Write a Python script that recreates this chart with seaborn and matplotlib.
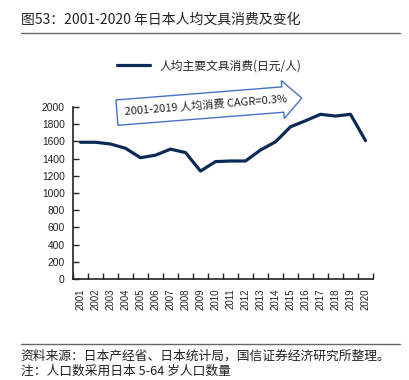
import matplotlib
matplotlib.use("Agg")
import matplotlib.pyplot as plt
import seaborn as sns
import pandas as pd

# ----------------------------
# Data
# ----------------------------
years = [str(y) for y in range(2001, 2021)]
spend = [1590, 1590, 1570, 1520, 1410, 1440, 1510, 1470, 1255, 1365,
         1372, 1372, 1500, 1595, 1770, 1840, 1915, 1895, 1915, 1610]
series_name = "人均主要文具消费(日元/人)"
y_ticks = list(range(0, 2001, 200))

title = "图53：2001-2020 年日本人均文具消费及变化"
note = "2001-2019 人均消费 CAGR=0.3%"
source = "资料来源：日本产经省、日本统计局，国信证券经济研究所整理。"
note2 = "注：人口数采用日本 5-64 岁人口数量"

df = pd.DataFrame({"year": years, "spend": spend})

# ----------------------------
# Style
# ----------------------------
sns.set_style("ticks")
plt.rcParams["font.family"] = ["Liberation Sans", "Noto Sans CJK SC", "DejaVu Sans"]
cjk = ["Noto Sans CJK SC", "DejaVu Sans"]
navy = "#0c2a57"

fig = plt.figure(figsize=(4.09, 3.80), dpi=100)
ax = fig.add_axes([0.1785, 0.2658, 0.7335, 0.4526])

sns.lineplot(data=df, x="year", y="spend", ax=ax, color=navy, lw=2.3,
             label=series_name, sort=False)

ax.set_xlim(-0.5, len(years) - 0.5)
ax.set_ylim(0, 2000)
ax.set_yticks(y_ticks)
ax.set_xticks(range(len(years)))
ax.set_xticklabels(years, rotation=90)
ax.set_xticks([i - 0.5 for i in range(len(years) + 1)], minor=True)
ax.set_xlabel("")
ax.set_ylabel("")

ax.tick_params(axis="y", direction="in", length=4, width=1, labelsize=7.4, pad=6, colors="#222222")
ax.tick_params(axis="x", which="major", length=0, labelsize=7.0, pad=7, colors="#222222")
ax.tick_params(axis="x", which="minor", direction="in", length=4, width=1, colors="#222222")
sns.despine(ax=ax)
for s in ["left", "bottom"]:
    ax.spines[s].set_linewidth(1.2)
    ax.spines[s].set_color("#222222")

ax.get_legend().remove()
leg = fig.legend(loc="center", bbox_to_anchor=(0.511, 0.826), frameon=False,
                 handlelength=2.8, prop={"family": cjk, "size": 8.5})

# arrow callout
fig.text(0.503, 0.722, note, ha="center", va="center", rotation=4.5,
         fontsize=8, family=cjk, color="#222222",
         bbox=dict(boxstyle="rarrow,pad=0.68", fc="white", ec="#4472c4", lw=1.0))

# title, rules and source
fig.text(0.051, 0.947, title, ha="left", va="center", fontsize=10, family=cjk, color="#222222")
fig.add_artist(plt.Line2D([0.051, 0.978], [0.913, 0.913], color="#666666", lw=1.0))
fig.add_artist(plt.Line2D([0.051, 0.978], [0.094, 0.094], color="#666666", lw=1.0))
fig.text(0.051, 0.064, source, ha="left", va="center", fontsize=9.2, family=cjk, color="#222222")
fig.text(0.051, 0.024, note2, ha="left", va="center", fontsize=9.2, family=cjk, color="#222222")

fig.savefig("out.png", dpi=100)
